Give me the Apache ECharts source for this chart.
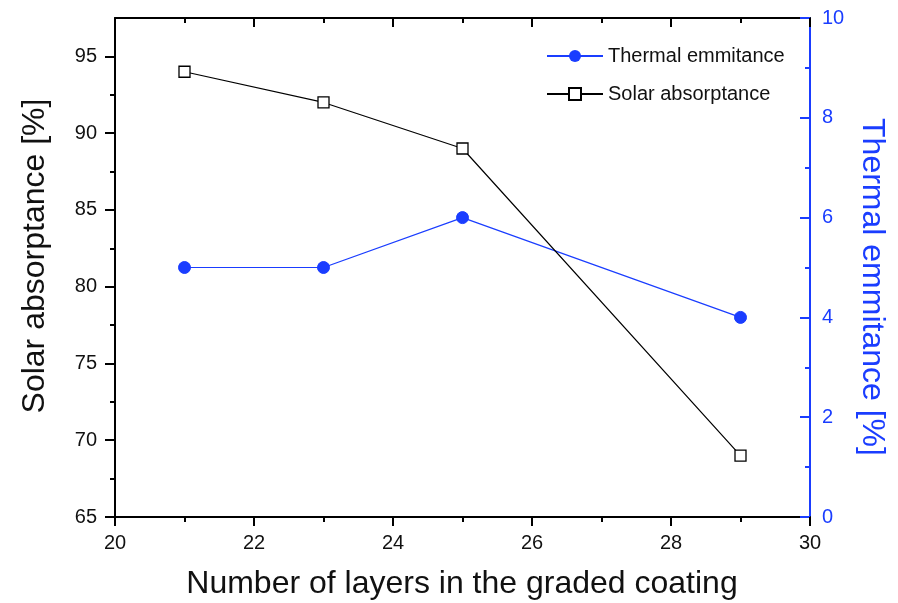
<!DOCTYPE html>
<html>
<head>
<meta charset="utf-8">
<script src="https://cdn.jsdelivr.net/npm/echarts@6/dist/echarts.min.js"></script>
<style>html,body{margin:0;padding:0;background:#fff}#c{width:898px;height:603px}</style>
</head>
<body>
<div id="c"></div>
<script>
var layers = [21, 23, 25, 29];
var solarAbsorptance = [94, 92, 89, 69];
var thermalEmittance = [5, 5, 6, 4];
var leftTickValues = [65, 70, 75, 80, 85, 90, 95];
var leftMinorValues = [67.5, 72.5, 77.5, 82.5, 87.5, 92.5];
var xAxisTitle = 'Number of layers in the graded coating';
var leftAxisTitle = 'Solar absorptance [%]';
var rightAxisTitle = 'Thermal emmitance [%]';

var BLUE = '#1a3dff';
var FONT = 'Liberation Sans, Arial, sans-serif';

var chart = echarts.init(document.getElementById('c'));
var axisLabelStyle = {fontFamily: FONT, fontSize: 20, color: '#111'};
chart.setOption({
  animation: false,
  grid: {left: 115, right: 88, top: 18, bottom: 86},
  legend: {
    left: 541, top: 41, orient: 'vertical', itemWidth: 56, itemHeight: 15, itemGap: 18,
    textStyle: {fontFamily: FONT, fontSize: 20, color: '#111'},
    data: ['Thermal emmitance', 'Solar absorptance']
  },
  graphic: [
    {type: 'text', x: 462, y: 584, style: {text: xAxisTitle, font: '32px ' + FONT, fill: '#111', align: 'center', verticalAlign: 'middle'}},
    {type: 'text', x: 35, y: 256, rotation: Math.PI / 2, style: {text: leftAxisTitle, font: '32px ' + FONT, fill: '#111', align: 'center', verticalAlign: 'middle'}},
    {type: 'text', x: 872, y: 287, rotation: -Math.PI / 2, style: {text: rightAxisTitle, font: '32px ' + FONT, fill: BLUE, align: 'center', verticalAlign: 'middle'}}
  ],
  xAxis: [{
    type: 'value', min: 20, max: 30, interval: 2, position: 'bottom',
    axisLine: {lineStyle: {color: '#000', width: 2}},
    axisTick: {inside: false, length: 9, lineStyle: {width: 2}},
    minorTick: {show: true, splitNumber: 2, length: 5, lineStyle: {color: '#000', width: 2}},
    splitLine: {show: false},
    axisLabel: Object.assign({margin: 16}, axisLabelStyle)
  }, {
    type: 'value', min: 20, max: 30, interval: 2, position: 'top',
    axisLine: {lineStyle: {color: '#000', width: 2}},
    axisTick: {inside: true, length: 9, lineStyle: {width: 2}},
    minorTick: {show: true, splitNumber: 2, length: 5, lineStyle: {color: '#000', width: 2}},
    splitLine: {show: false},
    axisLabel: {show: false}
  }],
  yAxis: [{
    type: 'value', min: 65, max: 97.5, position: 'left',
    axisLine: {show: true, lineStyle: {color: '#000', width: 2}},
    axisTick: {show: true, inside: false, length: 10, customValues: leftTickValues, lineStyle: {width: 2}},
    splitLine: {show: false},
    axisLabel: Object.assign({margin: 18, customValues: leftTickValues}, axisLabelStyle)
  }, {
    type: 'value', min: 0, max: 10, interval: 2, position: 'right',
    axisLine: {show: true, lineStyle: {color: BLUE, width: 2}},
    axisTick: {show: true, inside: true, length: 10, lineStyle: {color: BLUE, width: 2}},
    minorTick: {show: true, splitNumber: 2, length: 5, lineStyle: {color: BLUE, width: 2}},
    splitLine: {show: false},
    axisLabel: {margin: 12, fontFamily: FONT, fontSize: 20, color: BLUE}
  }, {
    type: 'value', min: 65, max: 97.5, position: 'left',
    axisLine: {show: false},
    axisTick: {show: true, inside: false, length: 5, customValues: leftMinorValues, lineStyle: {color: '#000', width: 2}},
    splitLine: {show: false},
    axisLabel: {show: false}
  }],
  series: [{
    name: 'Thermal emmitance', type: 'line', xAxisIndex: 0, yAxisIndex: 1,
    data: layers.map(function (x, i) { return [x, thermalEmittance[i]]; }),
    symbol: 'circle', symbolSize: 12,
    lineStyle: {color: BLUE, width: 1.2},
    itemStyle: {color: BLUE, borderColor: BLUE}
  }, {
    name: 'Solar absorptance', type: 'line', xAxisIndex: 0, yAxisIndex: 0,
    data: layers.map(function (x, i) { return [x, solarAbsorptance[i]]; }),
    symbol: 'rect', symbolSize: 11,
    lineStyle: {color: '#000', width: 1.2},
    itemStyle: {color: '#fff', borderColor: '#000', borderWidth: 1.3}
  }]
});
</script>
</body>
</html>
